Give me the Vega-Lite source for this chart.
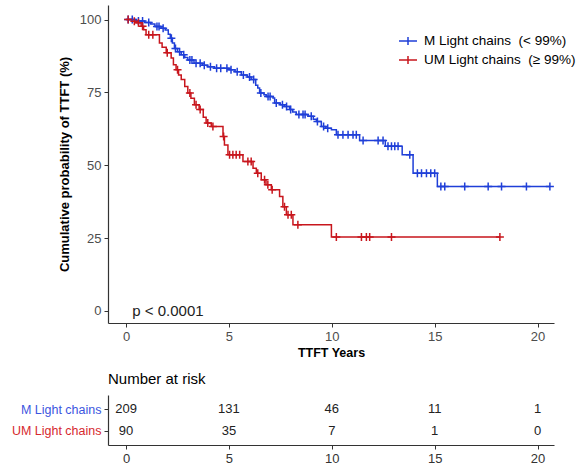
{
"$schema": "https://vega.github.io/schema/vega-lite/v6.json",
"background": "white",
"padding": {"left": 11, "top": 5, "right": 5, "bottom": 0},
"bounds": "flush",
"spacing": 72,
"config": {
  "font": "Liberation Sans",
  "view": {"stroke": null},
  "axis": {"grid": false, "domainColor": "#333333", "tickColor": "#333333", "labelColor": "#4d4d4d", "titleColor": "#000000", "domainWidth": 1.2, "tickWidth": 1, "tickSize": 4, "labelPadding": 3},
  "legend": {"symbolType": "M-1,0H1M0,-0.45V0.45", "symbolSize": 324, "symbolStrokeWidth": 1.5, "labelFontSize": 13.5, "labelColor": "#000000", "rowPadding": 1, "labelOffset": 6}
},
"datasets": {
  "km": [
    {"g":"M","t":0,"s":100,"c":0},{"g":"M","t":0.5,"s":99.5,"c":0},{"g":"M","t":0.9,"s":99,"c":0},{"g":"M","t":1.2,"s":98.5,"c":0},{"g":"M","t":1.4,"s":97.6,"c":0},{"g":"M","t":1.7,"s":97,"c":0},{"g":"M","t":1.9,"s":96.4,"c":0},{"g":"M","t":2.05,"s":95,"c":0},{"g":"M","t":2.15,"s":93.6,"c":0},{"g":"M","t":2.25,"s":92,"c":0},{"g":"M","t":2.35,"s":90.1,"c":0},{"g":"M","t":2.5,"s":89,"c":0},{"g":"M","t":2.68,"s":87.9,"c":0},{"g":"M","t":2.85,"s":87,"c":0},{"g":"M","t":3.0,"s":86.1,"c":0},{"g":"M","t":3.3,"s":85.0,"c":0},{"g":"M","t":3.7,"s":84.3,"c":0},{"g":"M","t":3.97,"s":83.8,"c":0},{"g":"M","t":4.3,"s":83.3,"c":0},{"g":"M","t":5.0,"s":82.8,"c":0},{"g":"M","t":5.3,"s":82.1,"c":0},{"g":"M","t":5.6,"s":81.0,"c":0},{"g":"M","t":5.9,"s":80.3,"c":0},{"g":"M","t":6.08,"s":79.4,"c":0},{"g":"M","t":6.3,"s":77.5,"c":0},{"g":"M","t":6.4,"s":76.5,"c":0},{"g":"M","t":6.49,"s":74.8,"c":0},{"g":"M","t":6.7,"s":74.2,"c":0},{"g":"M","t":6.81,"s":73.6,"c":0},{"g":"M","t":7.14,"s":73.1,"c":0},{"g":"M","t":7.22,"s":71.4,"c":0},{"g":"M","t":7.5,"s":70.8,"c":0},{"g":"M","t":7.7,"s":70.2,"c":0},{"g":"M","t":7.95,"s":69.1,"c":0},{"g":"M","t":8.1,"s":68.3,"c":0},{"g":"M","t":8.27,"s":67.4,"c":0},{"g":"M","t":8.84,"s":66.8,"c":0},{"g":"M","t":9.1,"s":65.8,"c":0},{"g":"M","t":9.25,"s":65.0,"c":0},{"g":"M","t":9.49,"s":63.3,"c":0},{"g":"M","t":9.7,"s":62.7,"c":0},{"g":"M","t":9.98,"s":62.2,"c":0},{"g":"M","t":10.22,"s":60.5,"c":0},{"g":"M","t":11.35,"s":58.5,"c":0},{"g":"M","t":12.6,"s":56.5,"c":0},{"g":"M","t":13.42,"s":53.6,"c":0},{"g":"M","t":13.95,"s":47.3,"c":0},{"g":"M","t":15.13,"s":42.7,"c":0},
    {"g":"M","t":0.1,"s":100,"c":1},{"g":"M","t":0.3,"s":100,"c":1},{"g":"M","t":0.6,"s":99.5,"c":1},{"g":"M","t":0.8,"s":99.5,"c":1},{"g":"M","t":1.1,"s":99,"c":1},{"g":"M","t":1.5,"s":97.6,"c":1},{"g":"M","t":1.6,"s":97.6,"c":1},{"g":"M","t":1.8,"s":97,"c":1},{"g":"M","t":2.2,"s":93.6,"c":1},{"g":"M","t":2.4,"s":90.1,"c":1},{"g":"M","t":2.6,"s":89,"c":1},{"g":"M","t":2.8,"s":87.9,"c":1},{"g":"M","t":3.1,"s":86.1,"c":1},{"g":"M","t":3.2,"s":86.1,"c":1},{"g":"M","t":3.4,"s":85.0,"c":1},{"g":"M","t":3.6,"s":85.0,"c":1},{"g":"M","t":3.8,"s":84.3,"c":1},{"g":"M","t":4.1,"s":83.8,"c":1},{"g":"M","t":4.4,"s":83.3,"c":1},{"g":"M","t":4.6,"s":83.3,"c":1},{"g":"M","t":4.9,"s":83.3,"c":1},{"g":"M","t":5.1,"s":82.8,"c":1},{"g":"M","t":5.4,"s":82.1,"c":1},{"g":"M","t":5.7,"s":81.0,"c":1},{"g":"M","t":6.0,"s":80.3,"c":1},{"g":"M","t":6.2,"s":79.4,"c":1},{"g":"M","t":6.55,"s":74.8,"c":1},{"g":"M","t":6.9,"s":73.6,"c":1},{"g":"M","t":7.0,"s":73.6,"c":1},{"g":"M","t":7.3,"s":71.4,"c":1},{"g":"M","t":7.6,"s":70.8,"c":1},{"g":"M","t":7.8,"s":70.2,"c":1},{"g":"M","t":8.0,"s":69.1,"c":1},{"g":"M","t":8.4,"s":67.4,"c":1},{"g":"M","t":8.6,"s":67.4,"c":1},{"g":"M","t":8.7,"s":67.4,"c":1},{"g":"M","t":9.0,"s":66.8,"c":1},{"g":"M","t":9.3,"s":65.0,"c":1},{"g":"M","t":9.6,"s":63.3,"c":1},{"g":"M","t":9.8,"s":62.7,"c":1},{"g":"M","t":10.3,"s":60.5,"c":1},{"g":"M","t":10.54,"s":60.5,"c":1},{"g":"M","t":10.79,"s":60.5,"c":1},{"g":"M","t":11.03,"s":60.5,"c":1},{"g":"M","t":11.19,"s":60.5,"c":1},{"g":"M","t":11.52,"s":58.5,"c":1},{"g":"M","t":12.25,"s":58.5,"c":1},{"g":"M","t":12.49,"s":58.5,"c":1},{"g":"M","t":12.73,"s":56.5,"c":1},{"g":"M","t":12.9,"s":56.5,"c":1},{"g":"M","t":13.06,"s":56.5,"c":1},{"g":"M","t":13.22,"s":56.5,"c":1},{"g":"M","t":13.79,"s":53.6,"c":1},{"g":"M","t":14.16,"s":47.3,"c":1},{"g":"M","t":14.36,"s":47.3,"c":1},{"g":"M","t":14.6,"s":47.3,"c":1},{"g":"M","t":14.81,"s":47.3,"c":1},{"g":"M","t":15.0,"s":47.3,"c":1},{"g":"M","t":15.3,"s":42.7,"c":1},{"g":"M","t":15.49,"s":42.7,"c":1},{"g":"M","t":16.46,"s":42.7,"c":1},{"g":"M","t":17.6,"s":42.7,"c":1},{"g":"M","t":18.25,"s":42.7,"c":1},{"g":"M","t":19.46,"s":42.7,"c":1},{"g":"M","t":20.6,"s":42.7,"c":1},
    {"g":"UM","t":0,"s":100,"c":0},{"g":"UM","t":0.3,"s":99.4,"c":0},{"g":"UM","t":0.49,"s":98.9,"c":0},{"g":"UM","t":0.73,"s":97.7,"c":0},{"g":"UM","t":0.85,"s":96.5,"c":0},{"g":"UM","t":0.97,"s":94.8,"c":0},{"g":"UM","t":1.62,"s":92.0,"c":0},{"g":"UM","t":1.75,"s":90.5,"c":0},{"g":"UM","t":1.95,"s":88.6,"c":0},{"g":"UM","t":2.19,"s":86.8,"c":0},{"g":"UM","t":2.3,"s":84.5,"c":0},{"g":"UM","t":2.43,"s":82.8,"c":0},{"g":"UM","t":2.55,"s":81,"c":0},{"g":"UM","t":2.68,"s":79.4,"c":0},{"g":"UM","t":2.85,"s":77,"c":0},{"g":"UM","t":3.0,"s":74.8,"c":0},{"g":"UM","t":3.15,"s":73,"c":0},{"g":"UM","t":3.32,"s":70.8,"c":0},{"g":"UM","t":3.55,"s":69.1,"c":0},{"g":"UM","t":3.75,"s":66.5,"c":0},{"g":"UM","t":3.89,"s":64.5,"c":0},{"g":"UM","t":4.14,"s":63.3,"c":0},{"g":"UM","t":4.71,"s":59.9,"c":0},{"g":"UM","t":4.78,"s":57.0,"c":0},{"g":"UM","t":4.95,"s":53.6,"c":0},{"g":"UM","t":5.68,"s":51.3,"c":0},{"g":"UM","t":6.17,"s":49.0,"c":0},{"g":"UM","t":6.33,"s":47.3,"c":0},{"g":"UM","t":6.57,"s":45.0,"c":0},{"g":"UM","t":6.8,"s":43.3,"c":0},{"g":"UM","t":7.06,"s":41.6,"c":0},{"g":"UM","t":7.46,"s":39.3,"c":0},{"g":"UM","t":7.62,"s":35.8,"c":0},{"g":"UM","t":7.79,"s":33.0,"c":0},{"g":"UM","t":8.11,"s":29.6,"c":0},{"g":"UM","t":9.98,"s":25.4,"c":0},
    {"g":"UM","t":0.1,"s":100,"c":1},{"g":"UM","t":0.4,"s":99.4,"c":1},{"g":"UM","t":0.6,"s":98.9,"c":1},{"g":"UM","t":0.8,"s":97.7,"c":1},{"g":"UM","t":1.1,"s":94.8,"c":1},{"g":"UM","t":1.3,"s":94.8,"c":1},{"g":"UM","t":2.0,"s":88.6,"c":1},{"g":"UM","t":2.5,"s":82.8,"c":1},{"g":"UM","t":3.1,"s":74.8,"c":1},{"g":"UM","t":3.4,"s":70.8,"c":1},{"g":"UM","t":3.6,"s":69.1,"c":1},{"g":"UM","t":3.97,"s":64.5,"c":1},{"g":"UM","t":4.22,"s":63.3,"c":1},{"g":"UM","t":4.74,"s":59.9,"c":1},{"g":"UM","t":5.03,"s":53.6,"c":1},{"g":"UM","t":5.19,"s":53.6,"c":1},{"g":"UM","t":5.35,"s":53.6,"c":1},{"g":"UM","t":5.52,"s":53.6,"c":1},{"g":"UM","t":5.92,"s":51.3,"c":1},{"g":"UM","t":6.08,"s":51.3,"c":1},{"g":"UM","t":6.4,"s":47.3,"c":1},{"g":"UM","t":6.73,"s":45.0,"c":1},{"g":"UM","t":6.89,"s":43.3,"c":1},{"g":"UM","t":7.1,"s":41.6,"c":1},{"g":"UM","t":7.7,"s":35.8,"c":1},{"g":"UM","t":7.87,"s":33.0,"c":1},{"g":"UM","t":8.03,"s":33.0,"c":1},{"g":"UM","t":8.35,"s":29.6,"c":1},{"g":"UM","t":10.22,"s":25.4,"c":1},{"g":"UM","t":11.44,"s":25.4,"c":1},{"g":"UM","t":11.68,"s":25.4,"c":1},{"g":"UM","t":11.84,"s":25.4,"c":1},{"g":"UM","t":12.9,"s":25.4,"c":1},{"g":"UM","t":18.17,"s":25.4,"c":1}
  ],
  "risk": [
    {"g":"M","t":0,"n":209},{"g":"M","t":5,"n":131},{"g":"M","t":10,"n":46},{"g":"M","t":15,"n":11},{"g":"M","t":20,"n":1},
    {"g":"UM","t":0,"n":90},{"g":"UM","t":5,"n":35},{"g":"UM","t":10,"n":7},{"g":"UM","t":15,"n":1},{"g":"UM","t":20,"n":0}
  ],
  "ptext": [{"label":"p < 0.0001","t":0.3,"s":0}]
},
"vconcat": [
  {
    "width": 446,
    "height": 318,
    "layer": [
      {
        "data": {"name": "km"},
        "mark": {"type": "line", "interpolate": "step-after", "strokeWidth": 1.5},
        "encoding": {
          "x": {"field": "t", "type": "quantitative", "scale": {"domain": [-0.88, 20.8], "nice": false, "zero": false},
                "axis": {"values": [0, 5, 10, 15, 20], "title": "TTFT Years", "titleFontWeight": "bold", "titleFontSize": 12.5, "titlePadding": 3, "labelFontSize": 13}},
          "y": {"field": "s", "type": "quantitative", "scale": {"domain": [-4.12, 105], "nice": false, "zero": false},
                "axis": {"values": [0, 25, 50, 75, 100], "title": "Cumulative probability of TTFT (%)", "titleFontWeight": "bold", "titleFontSize": 13, "titlePadding": 8, "labelFontSize": 13}},
          "color": {"field": "g", "type": "nominal", "scale": {"domain": ["M", "UM"], "range": ["#1f3fd8", "#c8161d"]},
                    "legend": {"orient": "none", "legendX": 290, "legendY": 26, "title": null, "labelExpr": "datum.label == 'M' ? 'M Light chains\u00a0 (< 99%)' : 'UM Light chains\u00a0 (≥ 99%)'"}}
        }
      },
      {
        "data": {"name": "km"},
        "transform": [{"filter": "datum.c == 1"}],
        "mark": {"type": "point", "shape": "M-1,0H1M0,-1V1", "size": 64, "strokeWidth": 1.5, "filled": false, "opacity": 1},
        "encoding": {
          "x": {"field": "t", "type": "quantitative"},
          "y": {"field": "s", "type": "quantitative"},
          "color": {"field": "g", "type": "nominal"}
        }
      },
      {
        "data": {"name": "ptext"},
        "mark": {"type": "text", "align": "left", "baseline": "middle", "fontSize": 15, "color": "#222222"},
        "encoding": {
          "x": {"field": "t", "type": "quantitative"},
          "y": {"field": "s", "type": "quantitative"},
          "text": {"field": "label", "type": "nominal"}
        }
      }
    ]
  },
  {
    "width": 446,
    "height": 50,
    "title": {"text": "Number at risk", "anchor": "start", "frame": "group", "fontSize": 15, "fontWeight": "normal", "color": "#000000", "offset": 8},
    "data": {"name": "risk"},
    "mark": {"type": "text", "fontSize": 13, "color": "#222222", "baseline": "middle"},
    "encoding": {
      "x": {"field": "t", "type": "quantitative", "scale": {"domain": [-0.88, 20.8], "nice": false, "zero": false},
            "axis": {"values": [0, 5, 10, 15, 20], "title": null, "labelFontSize": 13, "labelColor": "#333333"}},
      "y": {"field": "g", "type": "nominal", "scale": {"domain": ["M", "UM"], "type": "point", "padding": 0.64},
            "axis": {"title": null, "labelFontSize": 12.5, "labelExpr": "datum.label == 'M' ? 'M Light chains' : 'UM Light chains'",
                     "labelColor": {"condition": {"test": "datum.value == 'M'", "value": "#3b55e0"}, "value": "#d6282e"}}},
      "text": {"field": "n", "type": "quantitative"}
    }
  }
]
}
